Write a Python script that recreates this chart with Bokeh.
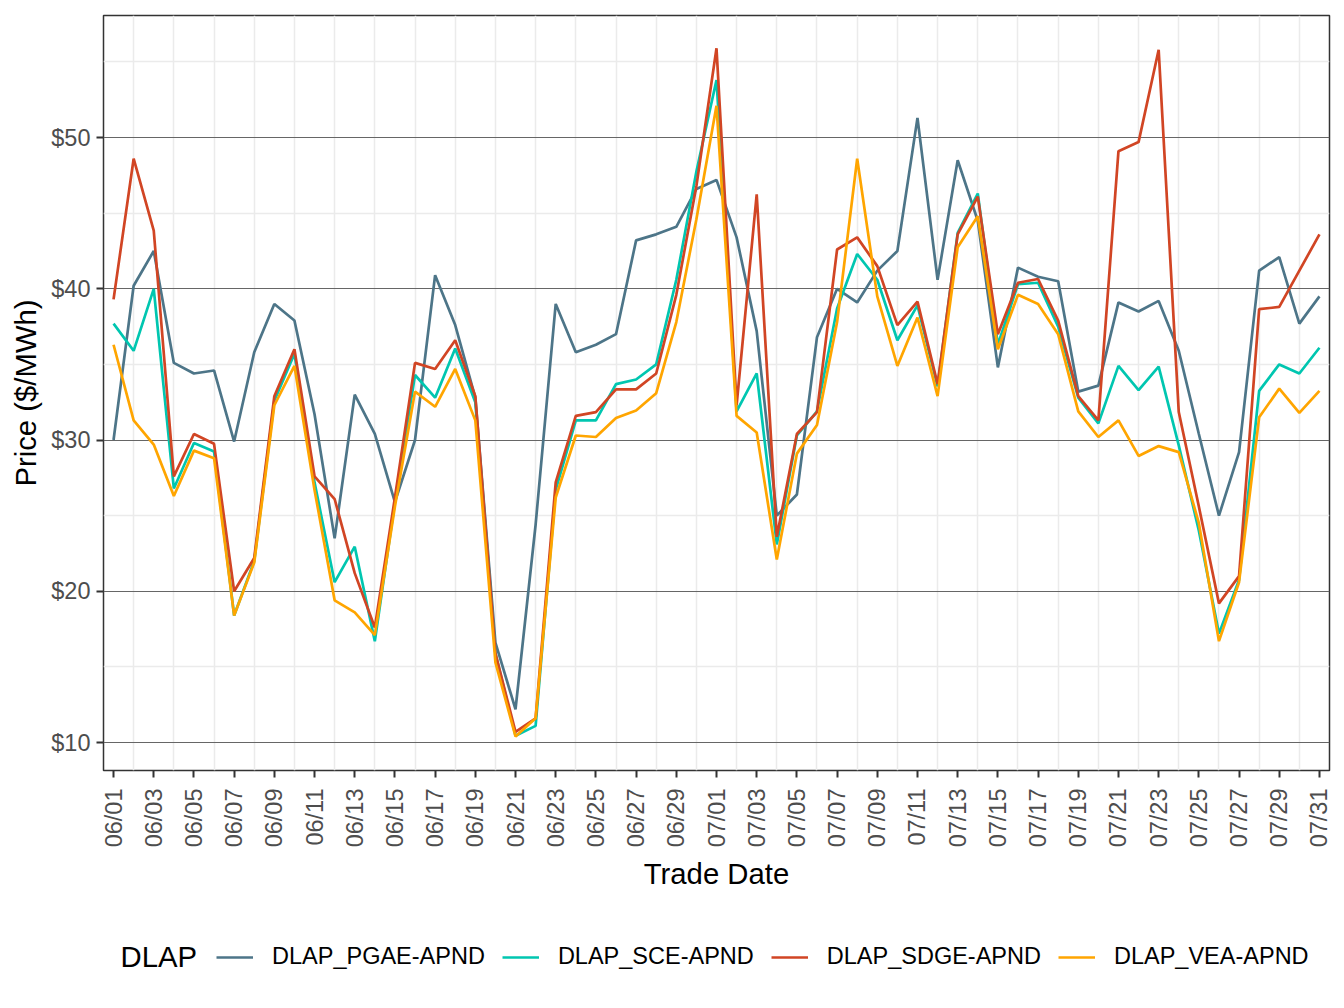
import math
from datetime import datetime, timedelta

from bokeh.plotting import figure
from bokeh.layouts import column
from bokeh.models import (ColumnDataSource, FixedTicker, DatetimeTickFormatter,
                          Range1d, Legend, LegendItem, NumeralTickFormatter)
from bokeh.core.properties import value
from bokeh.embed import file_html
from bokeh.resources import INLINE

# ---------------- data ----------------
start_date = datetime(2023, 6, 1)
n_days = 61
dates = [start_date + timedelta(days=i) for i in range(n_days)]

legend_title = "DLAP"
series_names = ["DLAP_PGAE-APND", "DLAP_SCE-APND", "DLAP_SDGE-APND", "DLAP_VEA-APND"]

pgae = [30.0, 40.2, 42.5, 35.1, 34.4, 34.6, 29.9, 35.8, 39.0, 37.9,
        31.7, 23.5, 33.0, 30.4, 25.9, 30.0, 40.9, 37.6, 32.8, 16.6,
        12.2, 24.4, 39.0, 35.8, 36.3, 37.0, 43.2, 43.6, 44.1, 46.6,
        47.2, 43.4, 37.2, 25.0, 26.4, 36.8, 40.0, 39.1, 41.2, 42.5,
        51.3, 40.6, 48.5, 44.5, 34.8, 41.4, 40.8, 40.5, 33.2, 33.6,
        39.1, 38.5, 39.2, 35.9, 30.4, 25.0, 29.2, 41.2, 42.1, 37.7,
        39.5]
sce = [37.7, 35.9, 40.0, 26.8, 29.8, 29.25, 18.4, 22.0, 32.6, 35.7,
       27.2, 20.6, 22.95, 16.7, 25.9, 34.3, 32.8, 36.05, 32.5, 15.9,
       10.45, 11.1, 26.7, 31.3, 31.3, 33.7, 34.0, 35.0, 40.6, 47.75,
       53.8, 31.9, 34.4, 23.1, 30.3, 31.9, 38.7, 42.3, 40.6, 36.6,
       38.9, 33.55, 43.7, 46.3, 36.3, 40.3, 40.4, 37.5, 32.8, 31.1,
       34.9, 33.3, 34.85, 29.65, 24.0, 17.2, 20.75, 33.25, 35.0, 34.4,
       36.1]
sdge = [39.3, 48.6, 43.85, 27.6, 30.4, 29.75, 20.0, 22.2, 32.9, 36.0,
        27.6, 26.1, 21.2, 17.6, 26.2, 35.1, 34.7, 36.6, 32.9, 15.9,
        10.7, 11.6, 27.2, 31.6, 31.85, 33.35, 33.35, 34.4, 39.6, 46.8,
        55.9, 32.3, 46.25, 23.6, 30.4, 31.85, 42.6, 43.4, 41.5, 37.6,
        39.15, 33.7, 43.6, 46.1, 37.0, 40.4, 40.65, 37.9, 32.9, 31.3,
        49.1, 49.7, 55.8, 31.85, 25.6, 19.2, 21.0, 38.65, 38.8, 41.2,
        43.6]
vea = [36.3, 31.3, 29.7, 26.3, 29.3, 28.8, 18.4, 21.9, 32.3, 34.9,
       26.7, 19.4, 18.6, 17.1, 25.6, 33.2, 32.2, 34.7, 31.3, 15.3,
       10.4, 11.6, 26.2, 30.3, 30.2, 31.45, 31.95, 33.1, 37.8, 44.6,
       52.1, 31.6, 30.5, 22.1, 29.1, 31.0, 37.8, 48.6, 39.5, 34.9,
       38.1, 32.9, 42.75, 44.8, 36.0, 39.6, 39.0, 37.0, 31.9, 30.2,
       31.3, 28.95, 29.6, 29.2, 24.5, 16.7, 20.6, 31.5, 33.4, 31.8,
       33.25]

y_ticks = [10, 20, 30, 40, 50]
y_minor = [15, 25, 35, 45, 55]

colors = ["#4D7588", "#00C6B0", "#D14524", "#FFA500"]
cols = ["pgae", "sce", "sdge", "vea"]

# ---------------- main figure ----------------
FONT = "Liberation Sans"
SMALL = "23.5px"
BIG = "29.3px"
LW = 2.7
LEFT, RIGHT, TOP = 103, 7, 15
WIDTH = 1336

def ms(d):
    return (d - datetime(1970, 1, 1)).total_seconds() * 1000.0

half_day = timedelta(hours=12)
p = figure(width=WIDTH, height=900, x_axis_type="datetime",
           output_backend="svg", toolbar_location=None,
           x_range=Range1d(dates[0] - half_day, dates[-1] + half_day),
           y_range=Range1d(8.15, 58.07),
           min_border_left=LEFT, min_border_right=RIGHT,
           min_border_top=TOP, min_border_bottom=130)

p.background_fill_color = "white"
p.border_fill_color = "white"
p.outline_line_color = "#333333"
p.outline_line_width = 1.5

source = ColumnDataSource(dict(date=dates, pgae=pgae, sce=sce, sdge=sdge, vea=vea))
for col, c in zip(cols, colors):
    p.line(x="date", y=col, source=source, line_color=c, line_width=LW)

# grids
label_ticks = [ms(d) for i, d in enumerate(dates) if i % 2 == 0]
grid_ticks = [ms(d) for i, d in enumerate(dates) if i % 2 == 1]
p.xgrid.ticker = FixedTicker(ticks=grid_ticks)
p.xgrid.grid_line_color = "#EBEBEB"
p.xgrid.grid_line_width = 1.5
p.ygrid.ticker = FixedTicker(ticks=y_ticks, minor_ticks=y_minor)
p.ygrid.grid_line_color = "#666666"
p.ygrid.grid_line_width = 1
p.ygrid.minor_grid_line_color = "#EBEBEB"
p.ygrid.minor_grid_line_width = 1.5

# x axis
xa = p.xaxis[0]
xa.ticker = FixedTicker(ticks=label_ticks)
xa.formatter = DatetimeTickFormatter(days="%m/%d", months="%m/%d", hours="%m/%d",
                                     years="%m/%d")
xa.major_label_orientation = math.pi / 2
xa.major_label_text_font = FONT
xa.major_label_text_font_size = SMALL
xa.major_label_text_color = "#4D4D4D"
xa.major_label_standoff = 11
xa.major_tick_out = 7
xa.major_tick_in = 0
xa.minor_tick_line_color = None
xa.major_tick_line_color = "#333333"
xa.major_tick_line_width = 2
xa.axis_line_color = None
xa.axis_label = "Trade Date"
xa.axis_label_text_font = FONT
xa.axis_label_text_font_size = BIG
xa.axis_label_text_font_style = "normal"
xa.axis_label_text_color = "black"
xa.axis_label_standoff = 7

# y axis
ya = p.yaxis[0]
ya.ticker = FixedTicker(ticks=y_ticks)
ya.formatter = NumeralTickFormatter(format="$0")
ya.major_label_text_font = FONT
ya.major_label_text_font_size = SMALL
ya.major_label_text_color = "#4D4D4D"
ya.major_label_standoff = 6
ya.major_tick_out = 7
ya.major_tick_in = 0
ya.minor_tick_line_color = None
ya.major_tick_line_color = "#333333"
ya.major_tick_line_width = 2
ya.axis_line_color = None
ya.axis_label = "Price ($/MWh)"
ya.axis_label_text_font = FONT
ya.axis_label_text_font_size = BIG
ya.axis_label_text_font_style = "normal"
ya.axis_label_text_color = "black"
ya.axis_label_standoff = 6

# ---------------- legend strip (page-pixel coordinates) ----------------
H2 = 100
q = figure(width=WIDTH, height=H2, output_backend="svg", toolbar_location=None,
           x_range=Range1d(LEFT, WIDTH - RIGHT), y_range=Range1d(0, H2),
           min_border_left=LEFT, min_border_right=RIGHT,
           min_border_top=0, min_border_bottom=0,
           x_axis_location=None, y_axis_location=None)
q.grid.visible = False
q.outline_line_color = None
q.background_fill_color = "white"
q.border_fill_color = "white"

q.text(x=[120], y=[H2 - 56], text=[legend_title], text_font=value(FONT),
       text_font_size=BIG, text_color="black", text_align="left",
       text_baseline="middle")

# the same series, far outside this strip's ranges, only to key the legend
key_renderers = []
for col, c in zip(cols, colors):
    r = q.line(x="date", y=col, source=source, line_color=c, line_width=LW)
    key_renderers.append(r)

items = [LegendItem(label=n, renderers=[r]) for n, r in zip(series_names, key_renderers)]
legend = Legend(items=items, orientation="horizontal", location=(216 - LEFT, 30))
legend.label_text_font = FONT
legend.label_text_font_size = SMALL
legend.label_text_color = "black"
legend.glyph_width = 37
legend.glyph_height = 20
legend.label_standoff = 19
legend.spacing = 17
legend.padding = 0
legend.margin = 0
legend.border_line_color = None
legend.background_fill_alpha = 0
q.add_layout(legend)

layout = column(p, q, spacing=0)
open("out.html", "w").write(file_html(layout, INLINE))
